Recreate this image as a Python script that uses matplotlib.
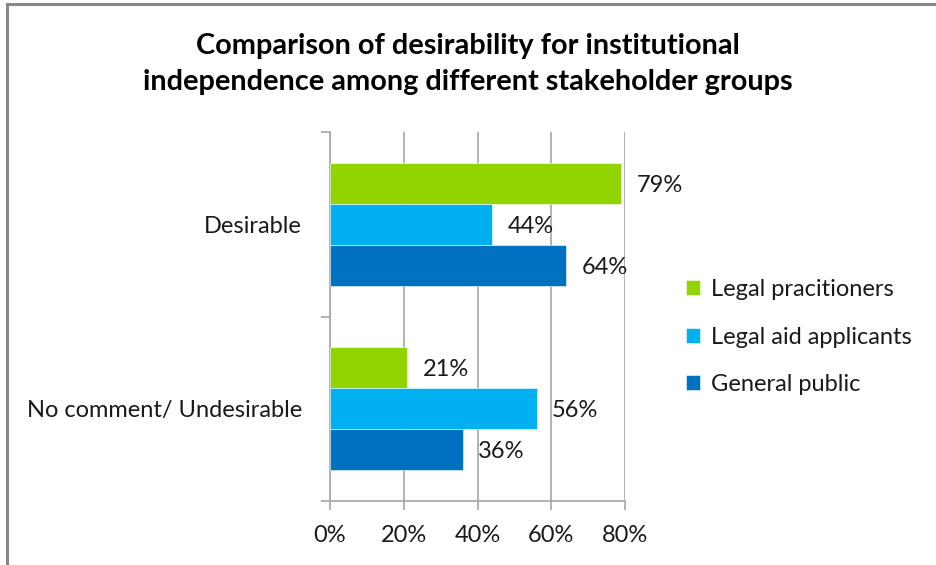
import matplotlib
matplotlib.use("Agg")
import matplotlib.pyplot as plt
from matplotlib.lines import Line2D
import numpy as np

# Survey results (share of respondents)
categories = ["Desirable", "No comment/ Undesirable"]
series_names = ["Legal pracitioners", "Legal aid applicants", "General public"]
legal_practitioners = [79, 21]
legal_aid_applicants = [44, 56]
general_public = [64, 36]
x_ticks = [0, 20, 40, 60, 80]
x_tick_labels = ["0%", "20%", "40%", "60%", "80%"]
title = "Comparison of desirability for institutional\nindependence among different stakeholder groups"

colors = ["#92D400", "#00B0F0", "#0070C0"]
text_c = "#1a1a1a"
fs = 17

plt.rcParams["font.family"] = ["Lato", "DejaVu Sans"]

fig = plt.figure(figsize=(9.36, 5.65), dpi=100)
ax = fig.add_axes([330 / 936, 1 - 501 / 565, 295 / 936, 369 / 565])

values = [legal_practitioners, legal_aid_applicants, general_public]
bar_h = 0.222
offsets = [-bar_h, 0.0, bar_h]
y = np.arange(len(categories))

bars = []
for vals, off, col, name in zip(values, offsets, colors, series_names):
    b = ax.barh(y + off, vals, height=bar_h, color=col, label=name,
                edgecolor="white", linewidth=0.4, zorder=3)
    bars.append(b)
    for rect, v in zip(b, vals):
        ax.annotate(f"{v}%", xy=(v, rect.get_y() + rect.get_height() / 2),
                    xytext=(11, -1.5), textcoords="offset points",
                    ha="left", va="center", fontsize=fs, color=text_c,
                    zorder=4)

ax.set_xlim(0, 80)
ax.set_ylim(1.5, -0.5)

ax.set_xticks(x_ticks)
ax.set_xticklabels(x_tick_labels)
ax.set_yticks(y)
ax.set_yticklabels(categories)
ax.set_yticks([-0.5, 0.5, 1.5], minor=True)

grid_c = "#A6A6A6"
ax.xaxis.grid(True, color=grid_c, linewidth=1.2, zorder=0)
for s in ["top", "right"]:
    ax.spines[s].set_visible(False)
for s in ["left", "bottom"]:
    ax.spines[s].set_color(grid_c)
    ax.spines[s].set_linewidth(1.2)

ax.tick_params(axis="x", which="major", length=6.5, width=1.2, color=grid_c,
               pad=11, labelsize=fs, labelcolor=text_c)
ax.tick_params(axis="y", which="major", length=0, pad=20,
               labelsize=fs, labelcolor=text_c)
ax.tick_params(axis="y", which="minor", length=6.5, width=1.2, color=grid_c,
               direction="out")

fig.text(0.5, 1 - 64 / 565, title, ha="center", va="center",
         fontsize=20.8, fontweight="bold", color="#000000", linespacing=1.45)

fig.legend(handles=bars, labels=series_names, loc="center left",
           bbox_to_anchor=(686 / 936, 1 - 337 / 565), frameon=False,
           fontsize=fs, handlelength=0.6, handleheight=0.6,
           handletextpad=0.45, labelspacing=1.12, borderaxespad=0,
           borderpad=0, labelcolor=text_c)

# frame edges along the top and left of the canvas
fig.add_artist(Line2D([7 / 936, 7 / 936], [0, 1 - 4 / 565], transform=fig.transFigure,
                      color="#888888", linewidth=2.2))
fig.add_artist(Line2D([7 / 936, 1], [1 - 4 / 565, 1 - 4 / 565], transform=fig.transFigure,
                      color="#888888", linewidth=2.2))

fig.savefig("out.png", dpi=100, facecolor="white")
